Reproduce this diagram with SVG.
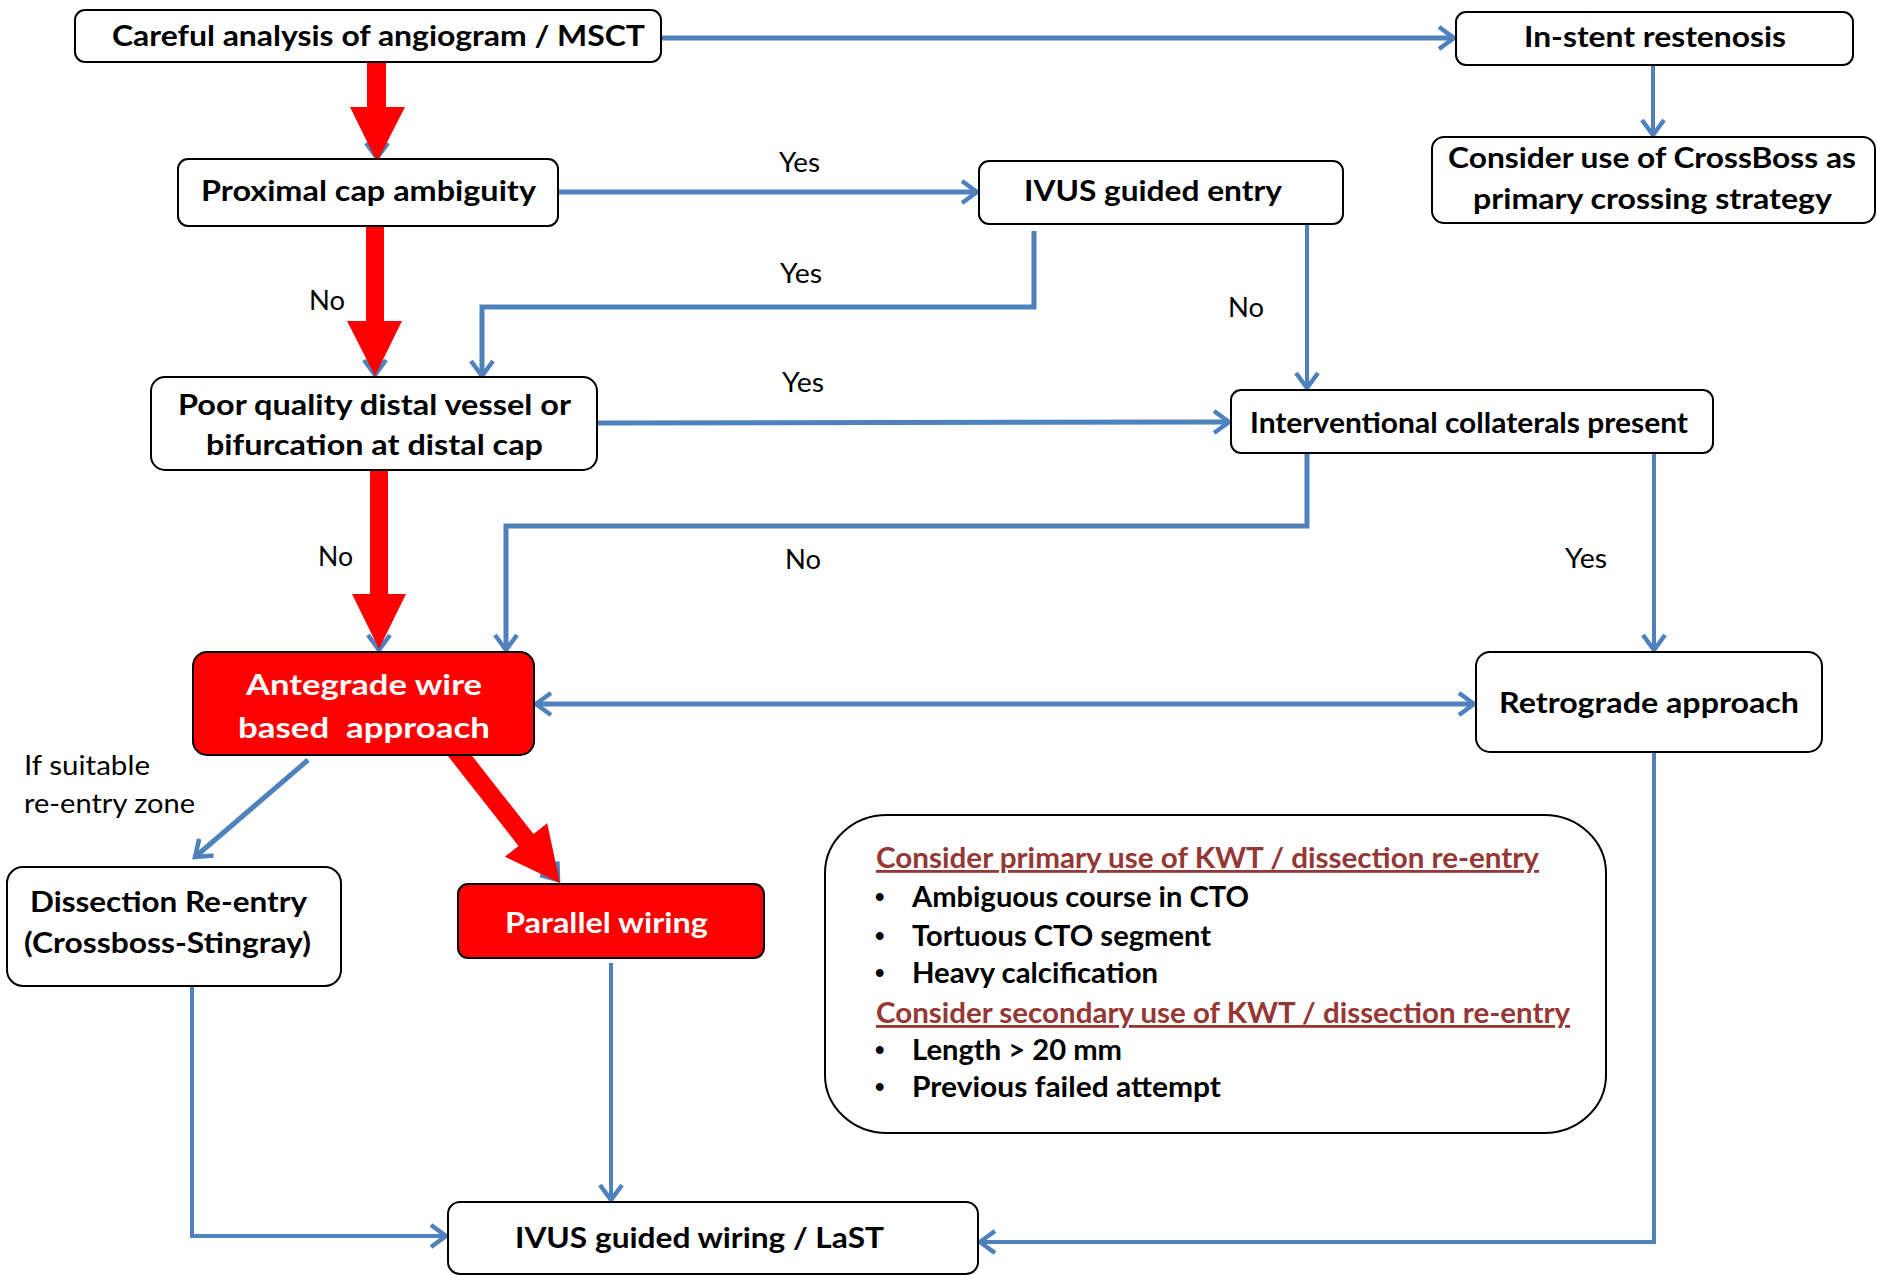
<svg xmlns="http://www.w3.org/2000/svg" width="1877" height="1275" viewBox="0 0 1877 1275">
  <defs>
    <style>
      .box { fill: #ffffff; stroke: #000000; stroke-width: 2; }
      .hot { fill: #ff0000; stroke: #000000; stroke-width: 2; }
      .t { font-family: Lato, "Open Sans", "Liberation Sans", sans-serif; font-weight: 700; font-size: 29px; fill: #000000; }
      .tw { fill: #ffffff; }
      .lbl { font-family: Lato, "Open Sans", "Liberation Sans", sans-serif; font-weight: 400; font-size: 26px; fill: #000000; }
      .hd { font-family: Lato, "Open Sans", "Liberation Sans", sans-serif; font-weight: 700; font-size: 28px; fill: #953735; text-decoration: underline; }
      .it { font-family: Lato, "Open Sans", "Liberation Sans", sans-serif; font-weight: 700; font-size: 28px; fill: #000000; }
      .bul { font-family: "Liberation Sans", sans-serif; font-weight: 700; font-size: 27px; fill: #000000; }
      .c { fill: none; stroke: #4f81bd; stroke-width: 5; }
      .thin { stroke-width: 4; }
      .red { fill: #ff0000; stroke: none; }
    </style>
    <marker id="arr" markerUnits="userSpaceOnUse" viewBox="-18 -14 22 28" markerWidth="22" markerHeight="28" refX="0" refY="0" orient="auto-start-reverse">
      <path d="M-15,-11 L0,0 L-15,11" fill="none" stroke="#4f81bd" stroke-width="4.5" stroke-linejoin="miter"/>
    </marker>
  </defs>

  <!-- connectors -->
  <g id="connectors">
    <!-- blue links running beneath the red main-path arrows -->
    <path class="c thin" d="M377,62 V158" marker-end="url(#arr)"/>
    <path class="c thin" d="M375,227 V375" marker-end="url(#arr)"/>
    <path class="c thin" d="M379,469 V650" marker-end="url(#arr)"/>
    <path class="c thin" d="M460,756 L558,880" marker-end="url(#arr)"/>

    <path class="c" d="M661,38 H1454" marker-end="url(#arr)"/>
    <path class="c thin" d="M1653,65 V135" marker-end="url(#arr)"/>
    <path class="c" d="M558,192 H977" marker-end="url(#arr)"/>
    <path class="c" d="M1034,231 V307 H482 V376" marker-end="url(#arr)"/>
    <path class="c thin" d="M1307,221 V388" marker-end="url(#arr)"/>
    <path class="c" d="M597,423 L1229,422" marker-end="url(#arr)"/>
    <path class="c" d="M1307,453 V526 H506 V650" marker-end="url(#arr)"/>
    <path class="c thin" d="M1654,450 V650" marker-end="url(#arr)"/>
    <path class="c" d="M536,704 H1474" marker-start="url(#arr)" marker-end="url(#arr)"/>
    <path class="c" d="M308,760 L195,857" marker-end="url(#arr)"/>
    <path class="c thin" d="M192,987 V1236 H446" marker-end="url(#arr)"/>
    <path class="c thin" d="M611,963 V1200" marker-end="url(#arr)"/>
    <path class="c thin" d="M1654,752 V1242 H980" marker-end="url(#arr)"/>

    <!-- red main path -->
    <polygon class="red" points="367,63 386,63 386,107 405,107 377,162 350,107 367,107"/>
    <polygon class="red" points="366,226 384,226 384,321 402,321 375,376 347,321 366,321"/>
    <polygon class="red" points="370,471 388,471 388,594 406,594 379,649 352,594 370,594"/>
    <polygon class="red" points="462.6,743.8 533.5,834.1 547.2,823.3 560,883 504.8,856.7 518.5,845.9 447.6,755.6"/>

    <!-- branch labels -->
    <text class="lbl" x="779" y="172" textLength="41" lengthAdjust="spacingAndGlyphs">Yes</text>
    <text class="lbl" x="780" y="283" textLength="42" lengthAdjust="spacingAndGlyphs">Yes</text>
    <text class="lbl" x="1228" y="317" textLength="36" lengthAdjust="spacingAndGlyphs">No</text>
    <text class="lbl" x="782" y="392" textLength="42" lengthAdjust="spacingAndGlyphs">Yes</text>
    <text class="lbl" x="309" y="310" textLength="36" lengthAdjust="spacingAndGlyphs">No</text>
    <text class="lbl" x="318" y="566" textLength="35" lengthAdjust="spacingAndGlyphs">No</text>
    <text class="lbl" x="785" y="569" textLength="36" lengthAdjust="spacingAndGlyphs">No</text>
    <text class="lbl" x="1565" y="568" textLength="42" lengthAdjust="spacingAndGlyphs">Yes</text>
    <text class="lbl" x="24" y="775" textLength="126" lengthAdjust="spacingAndGlyphs">If suitable</text>
    <text class="lbl" x="24" y="813" textLength="171" lengthAdjust="spacingAndGlyphs">re-entry zone</text>
  </g>

  <g id="careful-analysis">
    <rect class="box" x="75" y="10" width="586" height="52" rx="10"/>
    <text class="t" x="112" y="46" textLength="533" lengthAdjust="spacingAndGlyphs">Careful analysis of angiogram / MSCT</text>
  </g>

  <g id="in-stent-restenosis">
    <rect class="box" x="1456" y="12" width="397" height="53" rx="10"/>
    <text class="t" x="1524" y="47" textLength="262" lengthAdjust="spacingAndGlyphs">In-stent restenosis</text>
  </g>

  <g id="crossboss">
    <rect class="box" x="1432" y="137" width="443" height="86" rx="12"/>
    <text class="t" x="1448" y="168" textLength="408" lengthAdjust="spacingAndGlyphs">Consider use of CrossBoss as</text>
    <text class="t" x="1473" y="209" textLength="359" lengthAdjust="spacingAndGlyphs">primary crossing strategy</text>
  </g>

  <g id="proximal-cap">
    <rect class="box" x="178" y="159" width="380" height="67" rx="10"/>
    <text class="t" x="201" y="201" textLength="335" lengthAdjust="spacingAndGlyphs">Proximal cap ambiguity</text>
  </g>

  <g id="ivus-entry">
    <rect class="box" x="979" y="161" width="364" height="63" rx="10"/>
    <text class="t" x="1024" y="201" textLength="258" lengthAdjust="spacingAndGlyphs">IVUS guided entry</text>
  </g>

  <g id="distal-vessel">
    <rect class="box" x="151" y="377" width="446" height="93" rx="14"/>
    <text class="t" x="178" y="415" textLength="393" lengthAdjust="spacingAndGlyphs">Poor quality distal vessel or</text>
    <text class="t" x="206" y="455" textLength="337" lengthAdjust="spacingAndGlyphs">bifurcation at distal cap</text>
  </g>

  <g id="collaterals">
    <rect class="box" x="1231" y="390" width="482" height="63" rx="10"/>
    <text class="t" x="1250" y="433" textLength="438" lengthAdjust="spacingAndGlyphs">Interventional collaterals present</text>
  </g>

  <g id="antegrade">
    <rect class="hot" x="193" y="652" width="341" height="103" rx="14"/>
    <text class="t tw" x="246" y="695" textLength="236" lengthAdjust="spacingAndGlyphs">Antegrade wire</text>
    <text class="t tw" x="238" y="738" textLength="252" lengthAdjust="spacingAndGlyphs" xml:space="preserve">based  approach</text>
  </g>

  <g id="retrograde">
    <rect class="box" x="1476" y="652" width="346" height="100" rx="14"/>
    <text class="t" x="1499" y="713" textLength="300" lengthAdjust="spacingAndGlyphs">Retrograde approach</text>
  </g>

  <g id="dissection-reentry">
    <rect class="box" x="7" y="867" width="334" height="119" rx="16"/>
    <text class="t" x="30" y="912" textLength="277" lengthAdjust="spacingAndGlyphs">Dissection Re-entry</text>
    <text class="t" x="24" y="953" textLength="287" lengthAdjust="spacingAndGlyphs">(Crossboss-Stingray)</text>
  </g>

  <g id="parallel-wiring">
    <rect class="hot" x="458" y="884" width="306" height="74" rx="10"/>
    <text class="t tw" x="505" y="933" textLength="203" lengthAdjust="spacingAndGlyphs">Parallel wiring</text>
  </g>

  <g id="ivus-wiring">
    <rect class="box" x="448" y="1202" width="530" height="72" rx="12"/>
    <text class="t" x="515" y="1248" textLength="369" lengthAdjust="spacingAndGlyphs">IVUS guided wiring / LaST</text>
  </g>

  <g id="kwt-notes">
    <rect class="box" x="825" y="815" width="781" height="318" rx="62" ry="58"/>
    <text class="hd" x="876" y="868" textLength="663" lengthAdjust="spacingAndGlyphs">Consider primary use of KWT / dissection re-entry</text>
    <text class="bul" x="875" y="906">•</text>
    <text class="it" x="912" y="907" textLength="337" lengthAdjust="spacingAndGlyphs">Ambiguous course in CTO</text>
    <text class="bul" x="875" y="945">•</text>
    <text class="it" x="912" y="946" textLength="299" lengthAdjust="spacingAndGlyphs">Tortuous CTO segment</text>
    <text class="bul" x="875" y="982">•</text>
    <text class="it" x="912" y="983" textLength="246" lengthAdjust="spacingAndGlyphs">Heavy calcification</text>
    <text class="hd" x="876" y="1023" textLength="694" lengthAdjust="spacingAndGlyphs">Consider secondary use of KWT / dissection re-entry</text>
    <text class="bul" x="875" y="1059">•</text>
    <text class="it" x="912" y="1060" textLength="210" lengthAdjust="spacingAndGlyphs">Length &gt; 20 mm</text>
    <text class="bul" x="875" y="1096">•</text>
    <text class="it" x="912" y="1097" textLength="309" lengthAdjust="spacingAndGlyphs">Previous failed attempt</text>
  </g>
</svg>
